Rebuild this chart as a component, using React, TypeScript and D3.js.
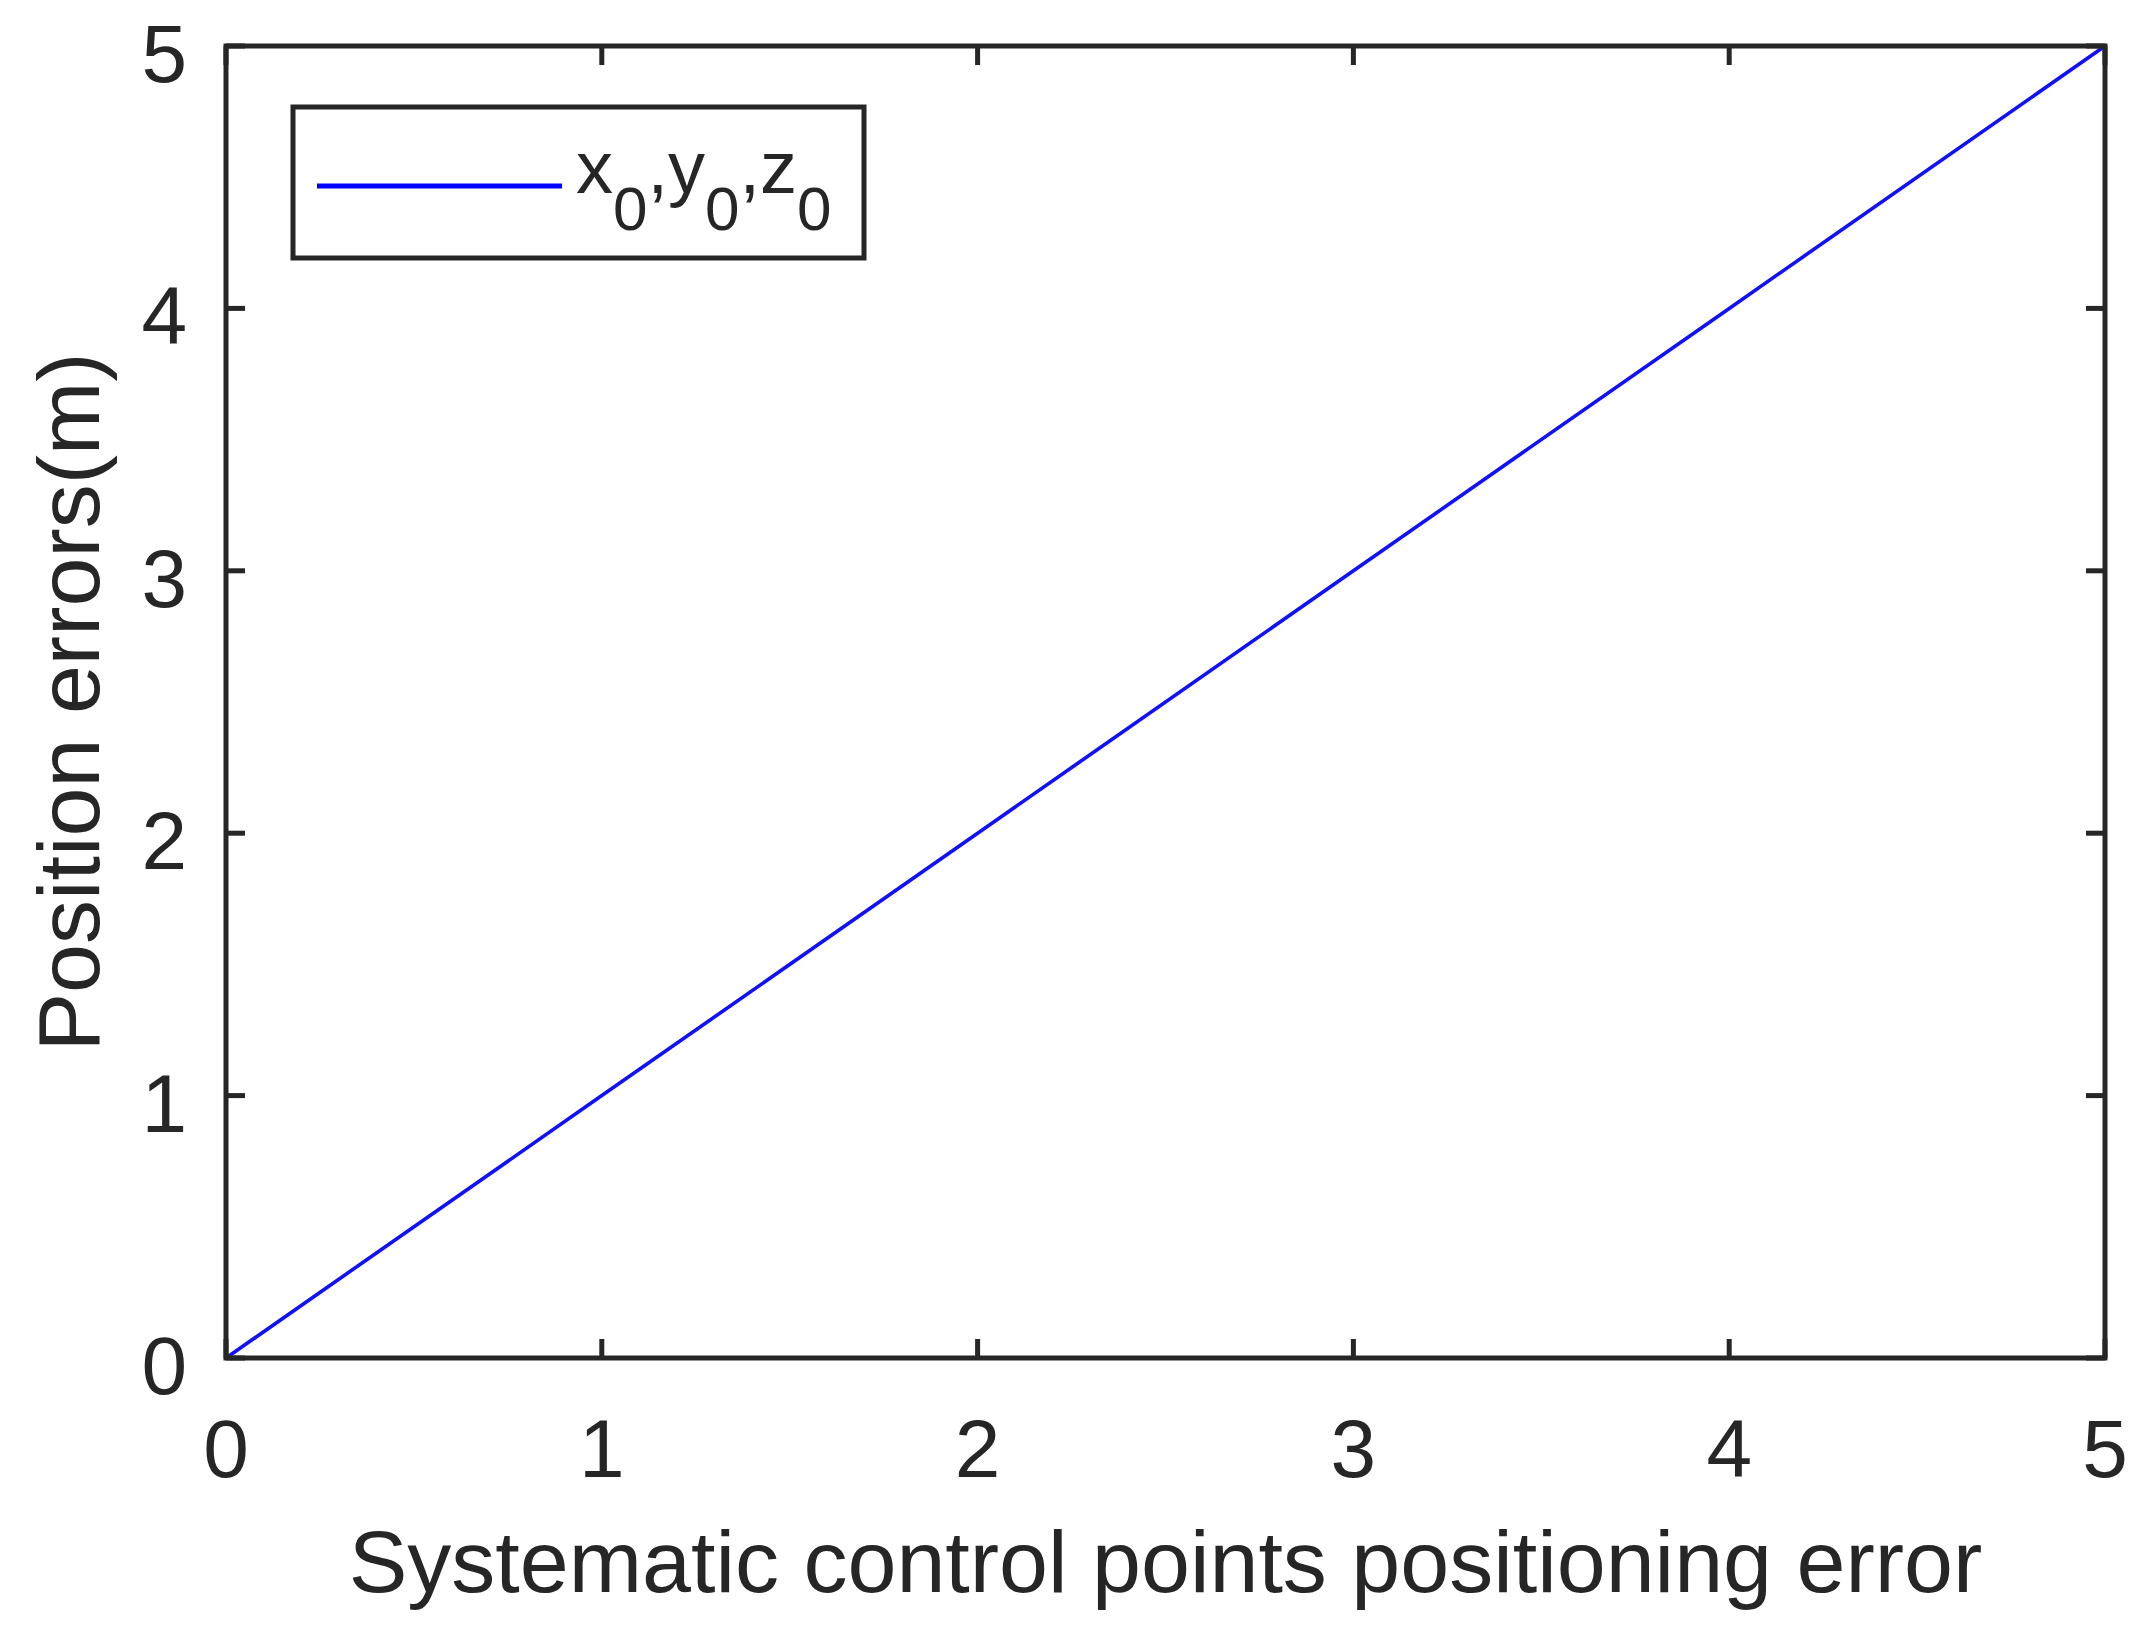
import React from "react";
import * as d3 from "d3";

const xTicks = [0, 1, 2, 3, 4, 5];
const yTicks = [0, 1, 2, 3, 4, 5];
const errorInput = [0, 1, 2, 3, 4, 5];
const positionError = [0, 1, 2, 3, 4, 5];
const xLabel = "Systematic control points positioning error";
const yLabel = "Position errors(m)";
const legendParts = [
  { main: "x", sub: "0" },
  { main: ",y", sub: "0" },
  { main: ",z", sub: "0" },
];

const W = 2146;
const H = 1638;
const M = { left: 226, right: 2105, top: 46, bottom: 1358 };
const AX = "#262626";
const FONT = "'Liberation Sans', Arial, Helvetica, sans-serif";

export default function App() {
  const x = d3.scaleLinear().domain([0, 5]).range([M.left, M.right]);
  const y = d3.scaleLinear().domain([0, 5]).range([M.bottom, M.top]);
  const pts: [number, number][] = errorInput.map((v, i) => [v, positionError[i]]);
  const line = d3
    .line<[number, number]>()
    .x((d) => x(d[0]))
    .y((d) => y(d[1]));
  const tl = 19;
  const sw = 5;

  return (
    <svg
      width={W}
      height={H}
      style={{ position: "absolute", left: 0, top: 0, background: "#fff" }}
      fontFamily={FONT}
    >
      <rect x={0} y={0} width={W} height={H} fill="#fff" />
      <path d={line(pts) || ""} fill="none" stroke="#1010ff" strokeWidth={3.6} />
      {/* ticks */}
      {xTicks.map((t) => (
        <g key={"xt" + t}>
          <line x1={x(t)} x2={x(t)} y1={M.bottom} y2={M.bottom - tl} stroke={AX} strokeWidth={sw} />
          <line x1={x(t)} x2={x(t)} y1={M.top} y2={M.top + tl} stroke={AX} strokeWidth={sw} />
          <text x={x(t)} y={1477} textAnchor="middle" fontSize={82} fill={AX}>
            {t}
          </text>
        </g>
      ))}
      {yTicks.map((t) => (
        <g key={"yt" + t}>
          <line x1={M.left} x2={M.left + tl} y1={y(t)} y2={y(t)} stroke={AX} strokeWidth={sw} />
          <line x1={M.right} x2={M.right - tl} y1={y(t)} y2={y(t)} stroke={AX} strokeWidth={sw} />
          <text x={187} y={y(t) + 36} textAnchor="end" fontSize={82} fill={AX}>
            {t}
          </text>
        </g>
      ))}
      <rect
        x={M.left}
        y={M.top}
        width={M.right - M.left}
        height={M.bottom - M.top}
        fill="none"
        stroke={AX}
        strokeWidth={sw}
      />
      {/* legend */}
      <rect x={293} y={107} width={571} height={151} fill="#fff" stroke={AX} strokeWidth={5} />
      <line x1={317} x2={562} y1={186} y2={186} stroke="#0000ff" strokeWidth={5} />
      <text x={576} y={193} fontSize={74} fill={AX}>
        {legendParts.map((p, i) => (
          <React.Fragment key={i}>
            <tspan dy={i === 0 ? 0 : -37}>{p.main}</tspan>
            <tspan fontSize={62} dy={37}>
              {p.sub}
            </tspan>
          </React.Fragment>
        ))}
      </text>
      {/* axis labels */}
      <text x={(M.left + M.right) / 2} y={1592} textAnchor="middle" fontSize={88} fill={AX}>
        {xLabel}
      </text>
      <text
        transform={`translate(99, ${(M.top + M.bottom) / 2}) rotate(-90)`}
        textAnchor="middle"
        fontSize={88}
        fill={AX}
      >
        {yLabel}
      </text>
    </svg>
  );
}
